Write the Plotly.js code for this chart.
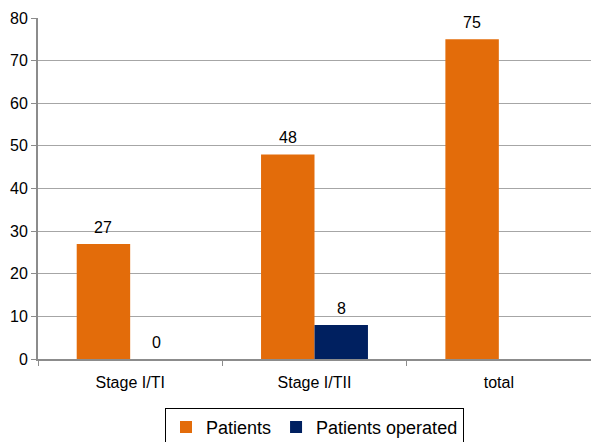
<!DOCTYPE html>
<html>
<head>
<meta charset="utf-8">
<script src="https://cdn.plot.ly/plotly-3.0.1.min.js"></script>
<style>html,body{margin:0;padding:0;background:#fff;}#chart{width:591px;height:442px;}</style>
</head>
<body>
<div id="chart"></div>
<script>
var categories = ["Stage I/TI", "Stage I/TII", "total"];
var patients = [27, 48, 75];
var patientsOperated = [0, 8, null];
var seriesNames = ["Patients", "Patients operated"];
var yTicks = [0, 10, 20, 30, 40, 50, 60, 70, 80];

var W = 591, H = 442;
var margin = {l: 38, r: 0, t: 18, b: 83, autoexpand: false};
var bargap = 0.42;

var traces = [
  {type: "bar", name: seriesNames[0], x: categories, y: patients, marker: {color: "#E36C0A"}, hoverinfo: "none"},
  {type: "bar", name: seriesNames[1], x: categories, y: patientsOperated, marker: {color: "#002060"}, hoverinfo: "none"}
];

// value labels placed over each bar of the group
var plotW = W - margin.l - margin.r;
var catW = plotW / categories.length;
var barW = catW * (1 - bargap) / 2;
var annotations = [];
[patients, patientsOperated].forEach(function (series, si) {
  series.forEach(function (v, i) {
    if (v === null) return;
    annotations.push({
      x: categories[i], y: v, xref: "x", yref: "y",
      text: String(v), showarrow: false, yanchor: "bottom",
      xshift: (si === 0 ? -1 : 1) * barW / 2, yshift: 6,
      font: {size: 16, color: "#000"}
    });
  });
});

var layout = {
  width: W, height: H,
  margin: margin,
  paper_bgcolor: "#fff", plot_bgcolor: "#fff",
  font: {family: "Liberation Sans, Arial, sans-serif", size: 16, color: "#000"},
  barmode: "group", bargap: bargap, bargroupgap: 0,
  showlegend: true,
  legend: {orientation: "h", x: 0.5, xanchor: "center", y: -0.143, yanchor: "top",
           bordercolor: "#000", borderwidth: 1, bgcolor: "#fff", font: {size: 18},
           traceorder: "normal"},
  annotations: annotations,
  xaxis: {type: "category", showline: true, linecolor: "#8c8c8c", linewidth: 2,
          ticks: "outside", tickson: "boundaries", ticklen: 5, tickcolor: "#8c8c8c", tickwidth: 1,
          ticklabelstandoff: 8, showgrid: false, tickfont: {size: 16}},
  yaxis: {range: [0, 80], tickvals: yTicks, showline: true, linecolor: "#8c8c8c", linewidth: 2,
          ticks: "outside", ticklen: 5, tickcolor: "#8c8c8c", tickwidth: 1,
          showgrid: true, gridcolor: "#a6a6a6", gridwidth: 1, zeroline: false, tickfont: {size: 16}}
};

Plotly.newPlot("chart", traces, layout, {displayModeBar: false, staticPlot: true});
</script>
</body>
</html>
